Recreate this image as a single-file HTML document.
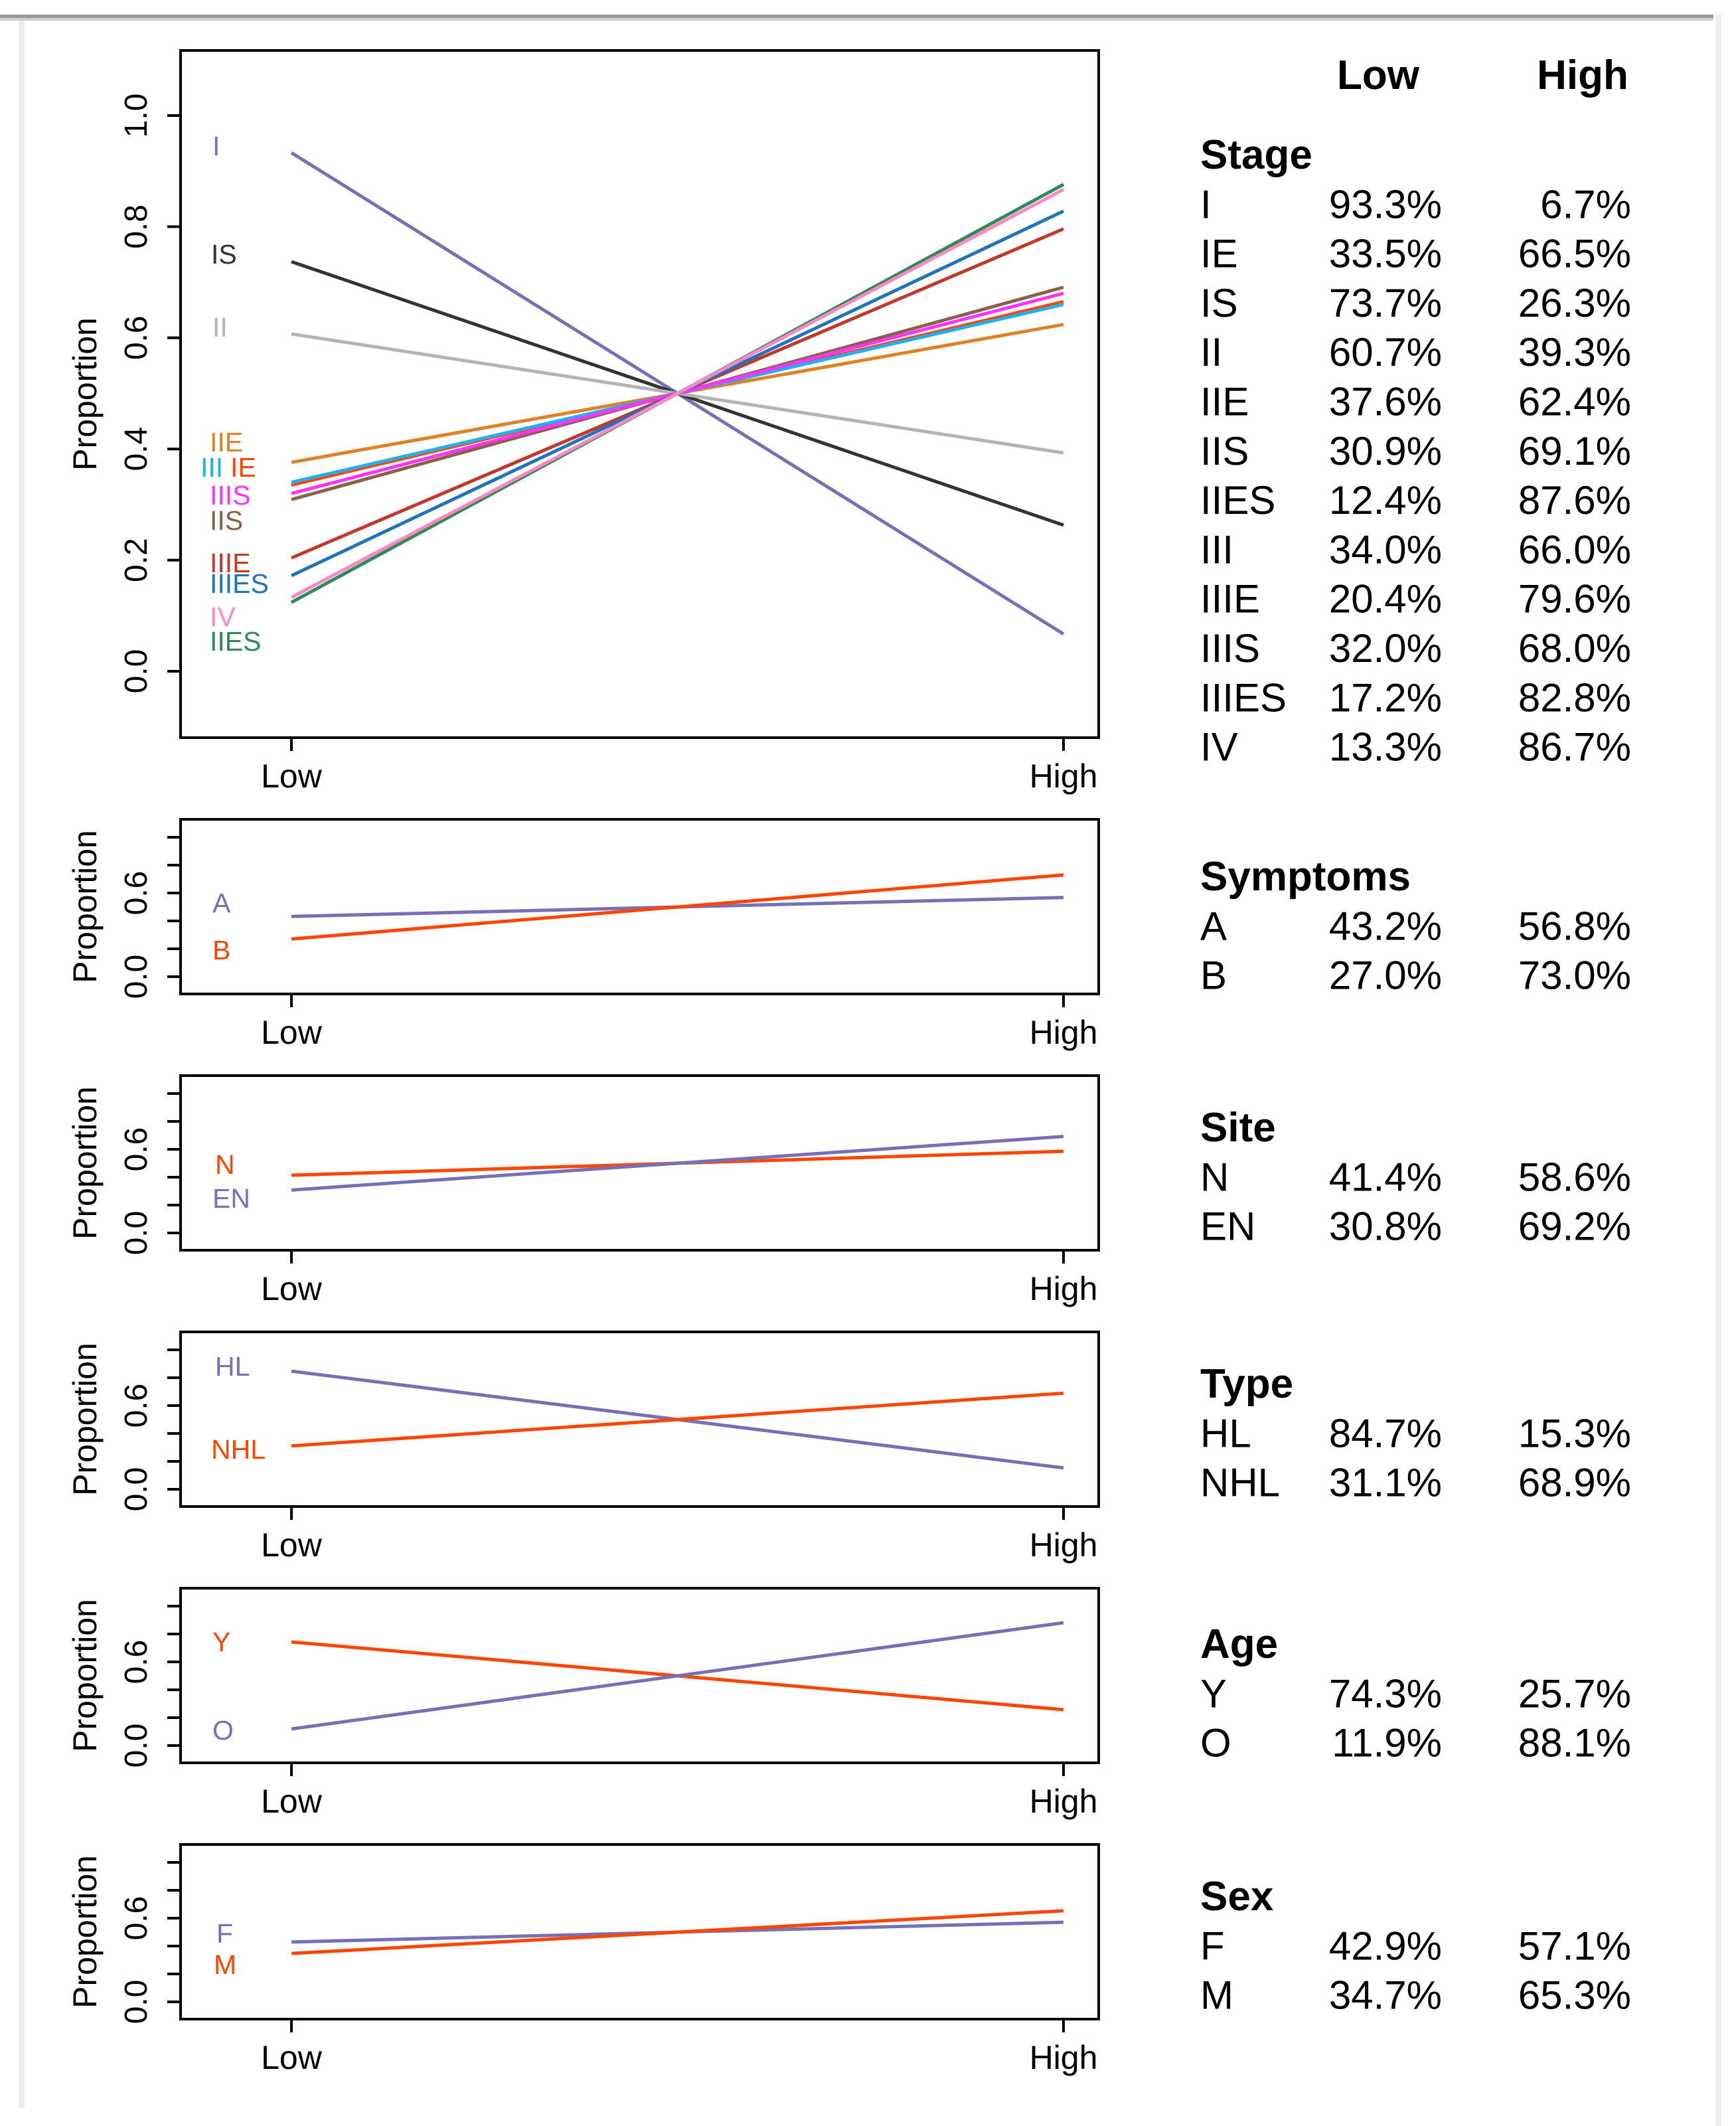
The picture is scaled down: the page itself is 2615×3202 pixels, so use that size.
<!DOCTYPE html>
<html><head><meta charset="utf-8"><style>
html,body{margin:0;padding:0;background:#fff;}
svg{display:block;font-family:"Liberation Sans",sans-serif;}
</style></head><body>
<svg id="s" width="2615" height="3202" viewBox="0 0 2615 3202" xmlns="http://www.w3.org/2000/svg">
<rect x="0" y="22" width="2581" height="5" fill="#999"/>
<rect x="0" y="27" width="2581" height="4" fill="#ccc"/>
<rect x="28" y="31" width="9" height="3144" fill="#ebebeb"/>
<rect x="2584" y="22" width="9" height="3180" fill="#eee"/>
<g id="charts"></g>
<g id="table" font-size="60" fill="#000"></g>
</svg>
<script>
// Stage panel data
const stageNames = ["I","IE","IS","II","IIE","IIS","IIES","III","IIIE","IIIS","IIIES","IV"];
const stageLow = [0.933,0.335,0.737,0.607,0.376,0.309,0.124,0.340,0.204,0.320,0.172,0.133];
const stageHigh = [0.067,0.665,0.263,0.393,0.624,0.691,0.876,0.660,0.796,0.680,0.828,0.867];
const stageColors = ["#7570b8","#ff4500","#333333","#b4b4b4","#e08224","#8b6048","#2e8b57","#1eb0f0","#c0392b","#ff33ff","#1f74bc","#ff88c4"];
// Small panels data
const symNames = ["A","B"]; const symLow = [0.432,0.270]; const symHigh = [0.568,0.730];
const siteNames = ["N","EN"]; const siteLow = [0.414,0.308]; const siteHigh = [0.586,0.692];
const typeNames = ["HL","NHL"]; const typeLow = [0.847,0.311]; const typeHigh = [0.153,0.689];
const ageNames = ["Y","O"]; const ageLow = [0.743,0.119]; const ageHigh = [0.257,0.881];
const sexNames = ["F","M"]; const sexLow = [0.429,0.347]; const sexHigh = [0.571,0.653];
const topTicks = ["0.0","0.2","0.4","0.6","0.8","1.0"];
const smallTickVals = [0,0.2,0.4,0.6,0.8,1.0];
const smallTickLabels = ["0.0","","","0.6","",""];
const xCats = ["Low","High"];

const NS="http://www.w3.org/2000/svg";
const charts=document.getElementById('charts');
function mk(tag,attrs,parent,text){const e=document.createElementNS(NS,tag);for(const k in attrs)e.setAttribute(k,attrs[k]);if(text!==undefined)e.textContent=text;(parent||charts).appendChild(e);return e;}

const X0=272,X1=1655,XL=439,XH=1602;
function xPos(i){return i===0?XL:XH;}

function drawPanel(top,bottom,zeroY,unit,tickVals,tickLabels,names,low,high,colors,labelPos,key){
  const g=mk('g',{});
  
  
  const y=v=>zeroY-unit*v;
  names.forEach((n,i)=>{
    const l=mk('line',{x1:xPos(0),y1:y(low[i]),x2:xPos(1),y2:y(high[i]),stroke:colors[i],'stroke-width':5},g);
    
    
  });
  const b=mk('rect',{x:X0,y:top,width:X1-X0,height:bottom-top,fill:'none',stroke:'#000','stroke-width':4},g);
  
  
  tickVals.forEach((v,i)=>{
    const t=mk('line',{x1:X0-20,y1:y(v),x2:X0,y2:y(v),stroke:'#000','stroke-width':4},g);
    
    
    if(tickLabels[i]){
      const tl=mk('text',{x:0,y:0,'font-size':48,'text-anchor':'middle',transform:'translate(221,'+y(v)+') rotate(-90)'},g,tickLabels[i]);
      
      
    }
  });
  const yt=mk('text',{x:0,y:0,'font-size':50,'text-anchor':'middle',transform:'translate(145,'+((top+bottom)/2)+') rotate(-90)'},g,'Proportion');
  
  
  xCats.forEach((c,i)=>{
    const t=mk('line',{x1:xPos(i),y1:bottom,x2:xPos(i),y2:bottom+20,stroke:'#000','stroke-width':4},g);
    
    
    const tl=mk('text',{x:xPos(i),y:bottom+75,'font-size':50,'text-anchor':'middle'},g,c);
    
    
  });
  names.forEach((n,i)=>{
    const p=labelPos[i];
    const tl=mk('text',{x:p[0],y:p[1]+15,'font-size':41,fill:colors[i]},g,n);
    
    
  });
}

const stageLabelPos=[[320,219],[347,703],[318,382],[320,492],[316,665],[316,783],[316,965],[302,703],[316,847],[316,745],[316,878],[316,928]];
drawPanel(76,1111,1011,837,[0,0.2,0.4,0.6,0.8,1.0],topTicks,stageNames,stageLow,stageHigh,stageColors,stageLabelPos,'stage');

const PUR="#7570b8",RED="#ff4500";
const smalls=[
 ['symptoms',symNames,symLow,symHigh,[PUR,RED],[[320,1359],[320,1430]]],
 ['site',siteNames,siteLow,siteHigh,[RED,PUR],[[324,1753],[320,1804]]],
 ['type',typeNames,typeLow,typeHigh,[PUR,RED],[[324,2057],[318,2182]]],
 ['age',ageNames,ageLow,ageHigh,[RED,PUR],[[320,2472],[320,2605]]],
 ['sex',sexNames,sexLow,sexHigh,[PUR,RED],[[326,2911],[322,2958]]]
];
smalls.forEach((s,k)=>{
  const top=1234+386*k, bottom=top+263, zero=top+237;
  drawPanel(top,bottom,zero,210,smallTickVals,smallTickLabels,s[1],s[2],s[3],s[4],s[5],s[0]);
});

const tbl=document.getElementById('table');
function tt(x,yc,txt,anchor,bold,name){
  const e=mk('text',{x:x,y:yc+21,'text-anchor':anchor},tbl,txt);
  if(bold){e.setAttribute('font-weight','bold');e.setAttribute('font-size','62');}
  
  
}
tt(2076,113,'Low','middle',true,'header-low');
tt(2384,113,'High','middle',true,'header-high');
const pct=v=>(v*100).toFixed(1)+'%';
const sections=[
 ['Stage',233,stageNames,stageLow,stageHigh],
 ['Symptoms',1320,symNames,symLow,symHigh],
 ['Site',1698,siteNames,siteLow,siteHigh],
 ['Type',2084,typeNames,typeLow,typeHigh],
 ['Age',2476,ageNames,ageLow,ageHigh],
 ['Sex',2856,sexNames,sexLow,sexHigh]
];
sections.forEach(s=>{
  tt(1808,s[1],s[0],'start',true,'section-'+s[0].toLowerCase());
  s[2].forEach((n,i)=>{
    const yc=s[1]+74.3*(i+1);
    tt(1808,yc,n,'start',false,'row-label-'+n.toLowerCase());
    tt(2172,yc,pct(s[3][i]),'end',false,'low-value-'+n.toLowerCase());
    tt(2457,yc,pct(s[4][i]),'end',false,'high-value-'+n.toLowerCase());
  });
});
</script>
</body></html>
